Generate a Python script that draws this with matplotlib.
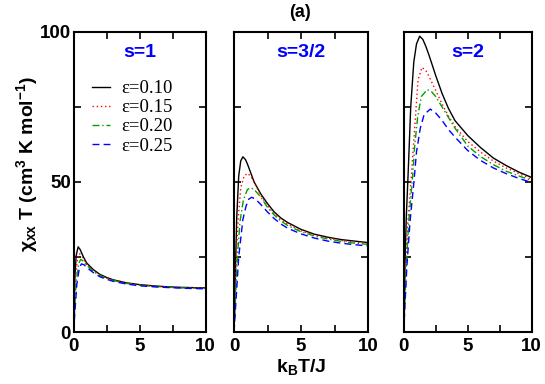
import matplotlib
matplotlib.use("Agg")
import matplotlib.pyplot as plt
from matplotlib.ticker import MultipleLocator

plt.rcParams['font.family'] = ['Liberation Sans', 'DejaVu Sans']
plt.rcParams['mathtext.default'] = 'regular'

# ---- datos ----
eps_labels = ["ε=0.10", "ε=0.15", "ε=0.20", "ε=0.25"]
spin_labels = ["s=1", "s=3/2", "s=2"]

# s = 1
t_s1 = [
    [0, 0.1, 0.2, 0.35, 0.5, 0.75, 1.0, 1.5, 2, 2.5, 3, 4, 5, 6, 7, 8, 9, 10],
    [0, 0.15, 0.3, 0.43, 0.6, 0.8, 1.0, 1.5, 2, 2.5, 3, 4, 5, 6, 7, 8, 9, 10],
    [0, 0.2, 0.4, 0.55, 0.75, 1.0, 1.5, 2, 2.5, 3, 4, 5, 6, 7, 8, 9, 10],
    [0, 0.25, 0.45, 0.6, 0.8, 1.0, 1.5, 2, 2.5, 3, 4, 5, 6, 7, 8, 9, 10],
]
chi_s1 = [
    [0, 18, 25.5, 28.4, 27.5, 25, 23, 20.8, 19.2, 18.2, 17.4, 16.4, 15.8, 15.4, 15.1, 14.9, 14.8, 14.7],
    [0, 18, 24.5, 26.2, 25.5, 24, 22.5, 20.4, 19, 18, 17.3, 16.3, 15.7, 15.3, 15.0, 14.8, 14.7, 14.6],
    [0, 17, 23, 24.2, 23.6, 22.2, 20.2, 18.8, 17.9, 17.2, 16.2, 15.6, 15.2, 14.95, 14.75, 14.6, 14.5],
    [0, 16, 21.5, 22.7, 22.4, 21.5, 19.8, 18.4, 17.6, 16.9, 16.0, 15.4, 15.1, 14.85, 14.65, 14.5, 14.4],
]

# s = 3/2
t_s32 = [
    [0, 0.1, 0.2, 0.35, 0.5, 0.66, 0.85, 1.0, 1.25, 1.5, 2, 2.5, 3, 3.5, 4, 5, 6, 7, 8, 9, 10],
    [0, 0.17, 0.3, 0.5, 0.75, 1.03, 1.3, 1.6, 2, 2.5, 3, 3.5, 4, 5, 6, 7, 8, 9, 10],
    [0, 0.25, 0.45, 0.7, 1.0, 1.23, 1.5, 2, 2.5, 3, 3.5, 4, 5, 6, 7, 8, 9, 10],
    [0, 0.35, 0.66, 0.9, 1.1, 1.32, 1.6, 2, 2.5, 3, 3.5, 4, 5, 6, 7, 8, 9, 10],
]
chi_s32 = [
    [0, 20, 38, 52, 57, 58.4, 57.5, 56, 53, 50, 46, 42.8, 40, 38, 36.5, 34.2, 32.6, 31.6, 30.8, 30.3, 29.8],
    [0, 25, 37, 48, 52, 52.9, 51.5, 49, 45.5, 42, 39.5, 37.5, 36, 33.8, 32.3, 31.3, 30.5, 30, 29.5],
    [0, 25, 37, 44, 47.5, 48.1, 47.5, 45, 41.5, 39, 37, 35.5, 33.4, 32, 31, 30.2, 29.6, 29.2],
    [0, 25, 37.5, 42, 44.3, 44.9, 44.3, 42.5, 40, 37.8, 36, 34.6, 32.7, 31.3, 30.3, 29.6, 29.1, 28.7],
]

# s = 2
t_s2 = [
    [0, 0.1, 0.2, 0.34, 0.55, 0.79, 1.0, 1.25, 1.5, 1.75, 2, 2.5, 3, 3.5, 4, 5, 6, 7, 8, 9, 10],
    [0, 0.15, 0.3, 0.6, 0.86, 1.12, 1.43, 1.75, 2, 2.5, 3, 3.5, 4, 5, 6, 7, 8, 9, 10],
    [0, 0.2, 0.4, 0.7, 0.86, 1.1, 1.38, 1.84, 2.2, 2.5, 3, 3.5, 4, 5, 6, 7, 8, 9, 10],
    [0, 0.25, 0.5, 0.8, 1.0, 1.3, 1.6, 2.08, 2.5, 3, 3.5, 4, 5, 6, 7, 8, 9, 10],
]
chi_s2 = [
    [0, 22, 38, 52, 75, 90, 96, 98.6, 97.5, 95, 92, 85.5, 79.5, 74.5, 70.5, 65.5, 61.5, 58, 55.5, 53.3, 51.5],
    [0, 22, 35, 52, 68, 84, 88.2, 87, 85, 80.5, 76, 72, 68.5, 63.5, 60, 57, 54.7, 52.8, 51],
    [0, 22, 37, 52, 62, 72, 78.5, 80.8, 80, 78.5, 75, 71.5, 68, 62, 58.5, 55.8, 53.6, 52, 50.5],
    [0, 22, 37, 50, 60, 68, 72.5, 74.3, 73, 70.5, 67.5, 65, 60.5, 57.2, 54.7, 52.8, 51.2, 49.8],
]

colors = ["black", "red", "#00a000", "blue"]
styles = ["-", (0, (1, 2)), (0, (5, 2, 1, 2)), (0, (5, 3))]

fig = plt.figure(figsize=(5.45, 3.84), dpi=100)
bottom, height = 0.1354, 0.7813
rects = [
    [0.1349, bottom, 0.2422, height],
    [0.4294, bottom, 0.2459, height],
    [0.7407, bottom, 0.2349, height],
]
datos = [(t_s1, chi_s1), (t_s32, chi_s32), (t_s2, chi_s2)]

axes = []
for i, rect in enumerate(rects):
    ax = fig.add_axes(rect)
    axes.append(ax)
    tt, cc = datos[i]
    for k in range(4):
        ax.plot(tt[k], cc[k], color=colors[k], linestyle=styles[k], lw=1.0,
                label=eps_labels[k])
    ax.set_xlim(0, 10)
    ax.set_ylim(0, 100)
    ax.xaxis.set_major_locator(MultipleLocator(5))
    ax.xaxis.set_minor_locator(MultipleLocator(2.5))
    ax.yaxis.set_major_locator(MultipleLocator(50))
    ax.yaxis.set_minor_locator(MultipleLocator(25))
    for sp in ax.spines.values():
        sp.set_linewidth(1.5)
    ax.tick_params(which='both', direction='in', top=True, right=True, width=1.2, length=5)
    ax.tick_params(axis='x', labelsize=13.5, pad=4)
    for lab in ax.get_xticklabels():
        lab.set_fontweight('bold')
    if i == 0:
        ax.tick_params(axis='y', which='both', left=True, direction='out',
                       labelsize=13.5, pad=2)
        ax.tick_params(axis='y', which='both', right=True, direction='in')
        for lab in ax.get_yticklabels():
            lab.set_fontweight('bold')
    else:
        ax.tick_params(axis='y', labelleft=False)
    ax.text(0.5, 0.932, spin_labels[i], transform=ax.transAxes, ha='center',
            va='center', color='blue', fontsize=14, fontweight='bold')

leg = axes[0].legend(loc='upper left', bbox_to_anchor=(0.14, 0.84),
                     frameon=False, prop={'family': 'Liberation Serif', 'size': 13.5},
                     handlelength=0.95, handletextpad=0.6, labelspacing=0.11,
                     borderpad=0, borderaxespad=0)

fig.text(0.551, 0.968, "(a)", ha='center', va='center', fontsize=13, fontweight='bold')
fig.text(0.552, 0.044, "k$_B$T/J", ha='center', va='center', fontsize=14, fontweight='bold')
fig.text(0.05, 0.573, r"$\chi_{xx}$ T (cm$^3$ K mol$^{-1}$)", rotation=90,
         ha='center', va='center', fontsize=14, fontweight='bold')

fig.savefig("out.png", dpi=100)
